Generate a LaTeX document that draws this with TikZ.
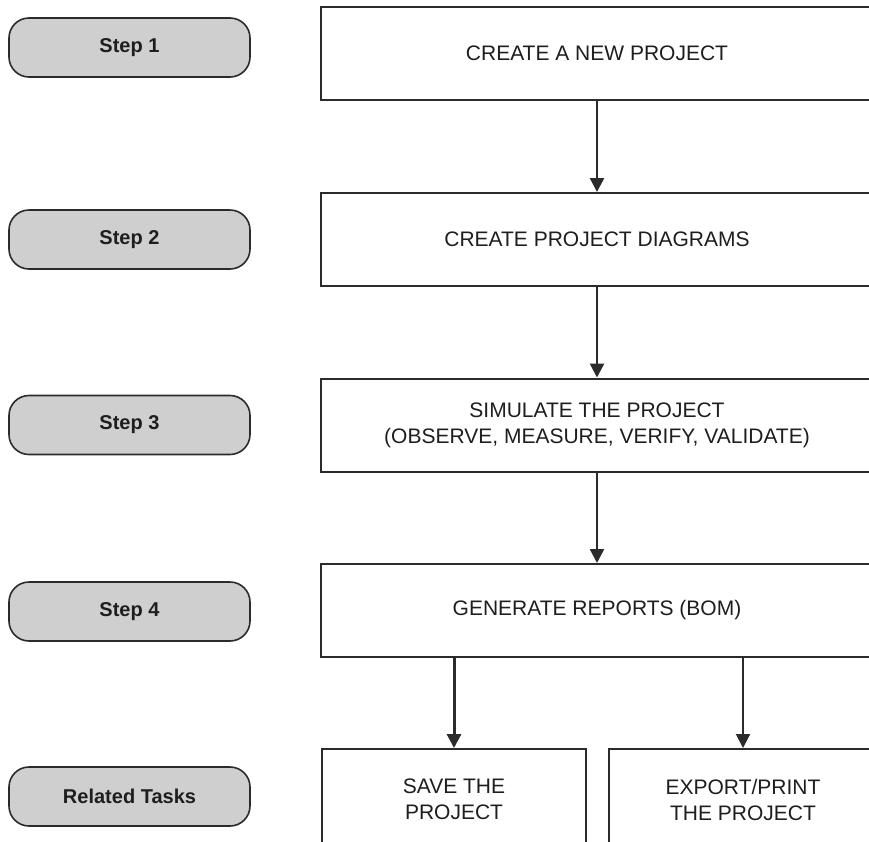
\documentclass[tikz,border=0pt]{standalone}
\usepackage{fontspec}
\setmainfont{Liberation Sans}
\usetikzlibrary{arrows.meta, positioning}
\definecolor{sline}{HTML}{2B2B2B}
\definecolor{sfill}{HTML}{CFCFCF}
\definecolor{stext}{HTML}{1E1E1E}
\tikzset{
  stepbox/.style={draw=sline, fill=sfill, line width=1.6pt, rounded corners=20pt,
                  minimum width=241pt, minimum height=59pt, inner sep=0pt, text=stext,
                  font=\fontsize{20}{24}\selectfont\bfseries},
  taskbox/.style={draw=sline, fill=white, line width=2pt, minimum width=552pt,
                  minimum height=93pt, inner sep=0pt, align=center, text=stext,
                  font=\fontsize{21}{26}\selectfont},
  arr/.style={-{Triangle[length=14pt, width=14pt]}, line width=2.5pt, sline},
}
\begin{document}
\begin{tikzpicture}[x=1pt, y=-1pt]
  \useasboundingbox (0,0) rectangle (869,841);
  \clip (0,0) rectangle (869,841);

  % step labels
  \node[stepbox] (s1) at (129.5,47.5) {Step 1};
  \node[stepbox] (s2) at (129.5,239.5) {Step 2};
  \node[stepbox] (s3) at (129.5,425) {Step 3};
  \node[stepbox] (s4) at (129.5,611.5) {Step 4};
  \node[stepbox] (rt) at (129.5,796.5) {Related Tasks};

  % task boxes
  \node[taskbox] (create) at (597,53.5) {CREATE A NEW PROJECT};
  \node[taskbox] (diag) at (597,239.5) {CREATE PROJECT DIAGRAMS};
  \node[taskbox] (sim) at (597,425) {SIMULATE THE PROJECT\\(OBSERVE, MEASURE, VERIFY, VALIDATE)};
  \node[taskbox] (rep) at (597,610.5) {GENERATE REPORTS (BOM)};
  \node[taskbox, minimum width=264pt, minimum height=101pt] (save) at (454,799.5) {SAVE THE\\PROJECT};
  \node[taskbox, minimum width=268pt, minimum height=101pt] (export) at (743,799.5) {EXPORT/PRINT\\THE PROJECT};

  \draw[arr] (create) -- (diag);
  \draw[arr] (diag) -- (sim);
  \draw[arr] (sim) -- (rep);
  \draw[arr, line width=3pt] (rep.south -| save) -- (save.north);
  \draw[arr, line width=2pt] (rep.south -| export) -- (export.north);
\end{tikzpicture}
\end{document}
